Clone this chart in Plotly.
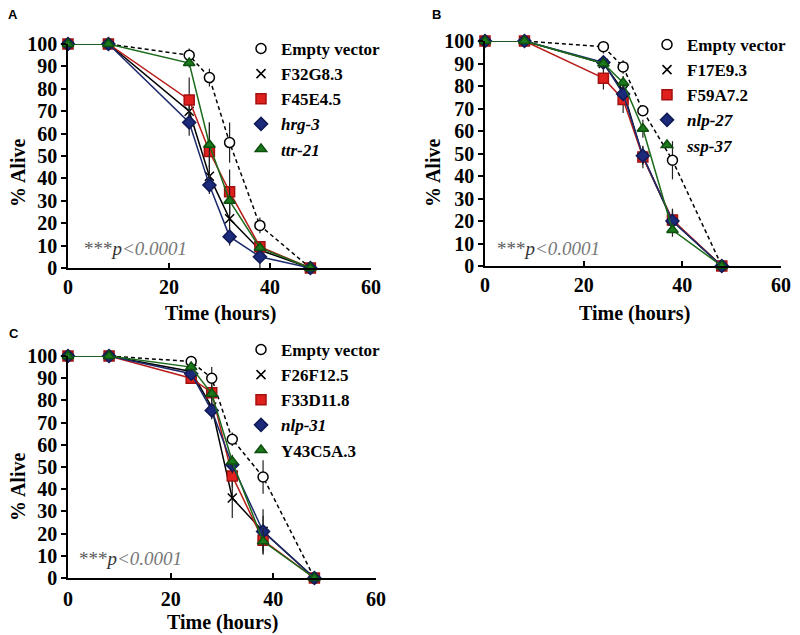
import plotly.graph_objects as go

# Time points (hours), shared by all panels
hours = [0, 8, 24, 28, 32, 38, 48]

# Panel A
a_names = ["Empty vector", "F32G8.3", "F45E4.5", "<i>hrg-3</i>", "<i>ttr-21</i>"]
a_empty = [100, 100, 95, 85, 56, 19, 0]
a_f32g8 = [100, 100, 70, 41, 22, 8, 0]
a_f45e4 = [100, 100, 75, 52, 34, 9.5, 0]
a_hrg3 = [100, 100, 65, 37, 14, 5, 0]
a_ttr21 = [100, 100, 91.5, 55, 30, 9, 0]
a_empty_err = [0, 0, 3, 4, 9, 3.5, 0]
a_f32g8_err = [0, 0, 5, 5, 6, 2, 0]
a_f45e4_err = [0, 0, 10, 13, 10, 2, 0]
a_hrg3_err = [0, 0, 6, 4, 4, 5, 0]
a_ttr21_err = [0, 0, 2, 10, 6, 2, 0]

# Panel B
b_names = ["Empty vector", "F17E9.3", "F59A7.2", "<i>nlp-27</i>", "<i>ssp-37</i>"]
b_empty = [100, 100, 97.5, 88.5, 69, 47, 0]
b_f17e9 = [100, 100, 90, 78, 48.5, 20, 0]
b_f59a7 = [100, 100, 83.5, 74, 48.5, 20.5, 0]
b_nlp27 = [100, 100, 90.5, 76.5, 49, 20, 0]
b_ssp37 = [100, 100, 90, 81.5, 61, 16, 0]
b_empty_err = [0, 0, 3, 3, 2, 8.5, 0]
b_f17e9_err = [0, 0, 2, 3, 3, 4, 0]
b_f59a7_err = [0, 0, 5, 6, 5, 5, 0]
b_nlp27_err = [0, 0, 2, 3, 4, 5, 0]
b_ssp37_err = [0, 0, 2, 3, 4, 3, 0]

# Panel C
c_names = ["Empty vector", "F26F12.5", "F33D11.8", "<i>nlp-31</i>", "Y43C5A.3"]
c_empty = [100, 100, 97.5, 90, 62.5, 45.5, 0]
c_f26f12 = [100, 100, 93, 77, 36, 21, 0]
c_f33d11 = [100, 100, 90, 83.5, 46, 17, 0]
c_nlp31 = [100, 100, 92, 75.5, 51, 21, 0]
c_y43c5 = [100, 100, 95, 83, 52.5, 16.5, 0]
c_empty_err = [0, 0, 2, 5, 3, 7.5, 0]
c_f26f12_err = [0, 0, 3, 5, 9, 10, 0]
c_f33d11_err = [0, 0, 2, 4, 5, 5, 0]
c_nlp31_err = [0, 0, 2, 4, 4, 7, 0]
c_y43c5_err = [0, 0, 2, 3, 3, 6, 0]

x_ticks = [0, 20, 40, 60]
y_ticks = [0, 10, 20, 30, 40, 50, 60, 70, 80, 90, 100]

SERIF = "Liberation Serif"
W, H = 800, 635
OFF = 8  # the page body adds an 8px margin around the figure


def px_x(v):
    return (v - OFF) / W


def px_y(v):
    return 1 - (v - OFF) / H


# Marker / line style for the 5 series of each panel (same order in every panel)
styles = [
    dict(symbol="circle", size=10, color="white", edge="black", line="black", dash="4px,3px"),
    dict(symbol="x-thin-open", size=9, color="black", edge="black", line="black", dash="solid"),
    dict(symbol="square", size=10, color="#e0201c", edge="#a31010", line="#b81c18", dash="solid"),
    dict(symbol="diamond", size=10, color="#1c2a7c", edge="#101a55", line="#1c2a6c", dash="solid"),
    dict(symbol="triangle-up", size=10, color="#1c7a1c", edge="#0e4e0e", line="#1a6a1a", dash="solid"),
]

panels = [
    ("x", "y", "legend", a_names,
     [a_empty, a_f32g8, a_f45e4, a_hrg3, a_ttr21],
     [a_empty_err, a_f32g8_err, a_f45e4_err, a_hrg3_err, a_ttr21_err]),
    ("x2", "y2", "legend2", b_names,
     [b_empty, b_f17e9, b_f59a7, b_nlp27, b_ssp37],
     [b_empty_err, b_f17e9_err, b_f59a7_err, b_nlp27_err, b_ssp37_err]),
    ("x3", "y3", "legend3", c_names,
     [c_empty, c_f26f12, c_f33d11, c_nlp31, c_y43c5],
     [c_empty_err, c_f26f12_err, c_f33d11_err, c_nlp31_err, c_y43c5_err]),
]

fig = go.Figure()

for xa, ya, leg, names, series, errs in panels:
    for name, vals, err, st in zip(names, series, errs, styles):
        marker = dict(
            symbol=st["symbol"], size=st["size"], color=st["color"],
            line=dict(color=st["edge"], width=1.5),
        )
        fig.add_trace(go.Scatter(
            x=hours, y=vals, xaxis=xa, yaxis=ya,
            mode="lines+markers",
            line=dict(color=st["line"], width=1.5, dash=st["dash"]),
            marker=marker,
            error_y=dict(type="data", array=err, visible=True,
                         color="#222222", thickness=1.2, width=0),
            cliponaxis=False,
            showlegend=False,
        ))
        # marker-only entry for the legend
        fig.add_trace(go.Scatter(
            x=[None], y=[None], xaxis=xa, yaxis=ya,
            mode="markers", name=name, marker=marker,
            legend=leg, showlegend=True,
        ))

axis_common = dict(
    showgrid=False, zeroline=False, showline=True,
    linecolor="black", linewidth=1.5,
    tickfont=dict(family=SERIF, size=20, color="black", weight="bold"),
    tickcolor="black", tickwidth=1.5, ticklen=5,
)

fig.update_layout(
    width=W, height=H,
    paper_bgcolor="white", plot_bgcolor="white",
    margin=dict(l=0, r=0, t=0, b=0, autoexpand=False),
    font=dict(family=SERIF, color="black"),
    xaxis=dict(domain=[px_x(68), px_x(371)], anchor="y", range=[0, 60], tickvals=x_ticks,
               ticks="inside", ticklabelstandoff=0, **axis_common),
    yaxis=dict(domain=[px_y(268), px_y(44)], anchor="x", range=[0, 100], tickvals=y_ticks,
               ticks="outside", **axis_common),
    xaxis2=dict(domain=[px_x(485), px_x(781)], anchor="y2", range=[0, 60], tickvals=x_ticks,
                ticks="inside", ticklabelstandoff=0, **axis_common),
    yaxis2=dict(domain=[px_y(266), px_y(41)], anchor="x2", range=[0, 100], tickvals=y_ticks,
                ticks="outside", **axis_common),
    xaxis3=dict(domain=[px_x(68), px_x(376)], anchor="y3", range=[0, 60], tickvals=x_ticks,
                ticks="inside", ticklabelstandoff=2, **axis_common),
    yaxis3=dict(domain=[px_y(578), px_y(356)], anchor="x3", range=[0, 100], tickvals=y_ticks,
                ticks="outside", **axis_common),
)

legend_common = dict(
    xanchor="left", yanchor="top", bgcolor="rgba(0,0,0,0)", borderwidth=0,
    font=dict(family=SERIF, size=17, color="black", weight="bold"),
    itemclick=False, itemdoubleclick=False,
)
fig.update_layout(
    legend=dict(x=px_x(241), y=px_y(31), **legend_common),
    legend2=dict(x=px_x(647), y=px_y(27), **legend_common),
    legend3=dict(x=px_x(241), y=px_y(332), **legend_common),
)

# Panel letters, axis titles and p-values
pval = ("<span style='color:#5a5a5a'>***</span><i><span style='color:#333'>p</span>"
        "<span style='color:#777'>&lt;0.0001</span></i>")
notes = [
    # text, x px, y px, font size, bold, rotation, xanchor, family
    ("A", 13, 15, 13, True, 0, "center", "Arial"),
    ("B", 436, 15, 13, True, 0, "center", "Arial"),
    ("C", 14, 333, 13, True, 0, "center", "Arial"),
    ("% Alive", 18, 173, 20, True, -90, "center", SERIF),
    ("% Alive", 433, 173, 20, True, -90, "center", SERIF),
    ("% Alive", 18, 487, 20, True, -90, "center", SERIF),
    ("Time (hours)", 220, 313, 20, True, 0, "center", SERIF),
    ("Time (hours)", 634, 313, 20, True, 0, "center", SERIF),
    ("Time (hours)", 222, 622, 20, True, 0, "center", SERIF),
    (pval, 82, 248, 19, False, 0, "left", SERIF),
    (pval, 495, 248, 19, False, 0, "left", SERIF),
    (pval, 77, 558, 19, False, 0, "left", SERIF),
]
for text, px, py, size, bold, rot, xanc, fam in notes:
    fig.add_annotation(
        text=text, x=px_x(px), y=px_y(py), xref="paper", yref="paper",
        xanchor=xanc, yanchor="middle", showarrow=False, textangle=rot,
        font=dict(family=fam, size=size, color="black",
                  weight="bold" if bold else "normal"),
    )

fig.write_html("out.html")
